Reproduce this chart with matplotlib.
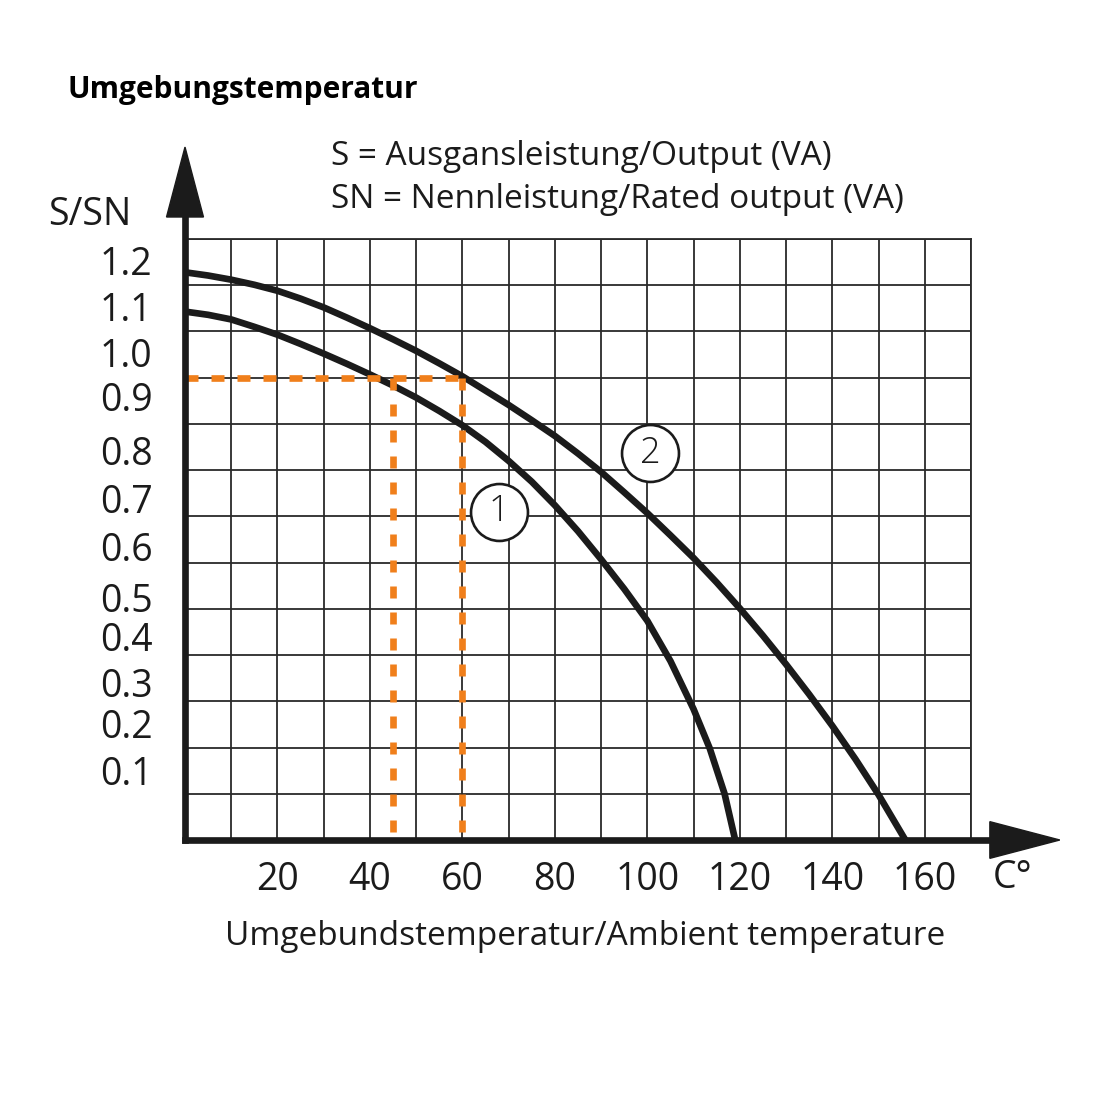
import matplotlib
matplotlib.use("Agg")
import matplotlib.pyplot as plt
import numpy as np
from matplotlib.patches import Polygon

plt.rcParams["font.family"] = ["Open Sans", "DejaVu Sans"]

# derating curves: ambient temperature (C) -> S/SN
temp_1 = [0, 5, 10, 15, 20, 25, 30, 35, 40, 45, 50, 55, 60, 65, 70, 75,
          80, 85, 90, 95, 100, 105, 110, 113.5, 116.7, 119.0]
load_1 = [1.143, 1.136, 1.126, 1.110, 1.093, 1.073, 1.052, 1.030, 1.007,
          0.983, 0.957, 0.928, 0.897, 0.861, 0.820, 0.775, 0.724, 0.668,
          0.607, 0.543, 0.474, 0.387, 0.283, 0.198, 0.100, 0.0]

temp_2 = [0, 5, 10, 15, 20, 25, 30, 35, 40, 45, 50, 55, 60, 65, 70, 75,
          80, 85, 90, 95, 100, 105, 110, 115, 120, 125, 130, 135, 140, 145,
          150, 155.8]
load_2 = [1.228, 1.221, 1.212, 1.201, 1.188, 1.171, 1.152, 1.130, 1.107,
          1.083, 1.058, 1.031, 1.003, 0.972, 0.941, 0.908, 0.874, 0.836,
          0.796, 0.752, 0.707, 0.659, 0.610, 0.557, 0.501, 0.442, 0.380,
          0.315, 0.247, 0.175, 0.098, 0.0]

# rated output (S/SN = 1) and the temperatures marked for it
rated_load = 1.0
rated_temps = [45, 60]

x_tick_values = [20, 40, 60, 80, 100, 120, 140, 160]
y_tick_labels = ["1.2", "1.1", "1.0", "0.9", "0.8", "0.7",
                 "0.6", "0.5", "0.4", "0.3", "0.2", "0.1"]
# the original labels sit between the grid lines, not on them
y_label_pos = [1.223, 1.122, 1.024, 0.927, 0.812, 0.708,
               0.604, 0.494, 0.408, 0.310, 0.220, 0.119]

title = "Umgebungstemperatur"
legend_lines = ["S = Ausgansleistung/Output (VA)",
                "SN = Nennleistung/Rated output (VA)"]
x_title = "Umgebundstemperatur/Ambient temperature"
y_title = "S/SN"
unit = "C°"

INK = "#1b1b1b"
ORANGE = "#f07f1b"

fig = plt.figure(figsize=(11, 11), dpi=100)
ax = fig.add_axes([185 / 1100, 260 / 1100, 786 / 1100, 601 / 1100])
ax.set_xlim(0, 170)
ax.set_ylim(0, 1.3)

xt = np.arange(0, 171, 10)
ax.set_xticks(xt)
ax.set_xticklabels([str(v) if v in x_tick_values else "" for v in xt])
ax.set_yticks(np.round(np.arange(0, 1.31, 0.1), 2))
ax.tick_params(length=0, labelleft=False)
ax.tick_params(axis="x", pad=15, labelsize=27, labelcolor=INK)
ax.grid(True, color="#2a2a2a", lw=1.3)
ax.set_axisbelow(True)

for side in ("top", "right"):
    ax.spines[side].set_linewidth(1.3)
    ax.spines[side].set_color("#2a2a2a")
for side in ("left", "bottom"):
    ax.spines[side].set_visible(False)

# thick axes with big arrow heads
ax.plot([0, 0], [0, 1.04], transform=ax.transAxes, lw=4.8, color=INK,
        clip_on=False, solid_capstyle="projecting", zorder=6)
ax.plot([0, 1.025], [0, 0], transform=ax.transAxes, lw=4.8, color=INK,
        clip_on=False, solid_capstyle="projecting", zorder=6)
ax.add_patch(Polygon([[-0.0235, 1.0366], [0.0235, 1.0366], [0, 1.153]],
                     closed=True, color=INK, transform=ax.transAxes,
                     clip_on=False, zorder=6))
ax.add_patch(Polygon([[1.024, -0.0305], [1.024, 0.0305], [1.113, 0]],
                     closed=True, color=INK, transform=ax.transAxes,
                     clip_on=False, zorder=6))

ax.plot(temp_1, load_1, color=INK, lw=4.8, zorder=3,
        solid_capstyle="butt", solid_joinstyle="round")
ax.plot(temp_2, load_2, color=INK, lw=4.8, zorder=3,
        solid_capstyle="butt", solid_joinstyle="round")

# orange guide lines
ax.plot([0, max(rated_temps)], [rated_load, rated_load], color=ORANGE,
        lw=4.8, dashes=(1.95, 1.95), zorder=4)
for t in rated_temps:
    ax.plot([t, t], [rated_load, 0], color=ORANGE, lw=4.8,
            dashes=(1.8, 2.1), zorder=4)

# circled curve numbers
for num, (cx, cy) in zip(["1", "2"], [(67.9, 0.710), (100.6, 0.837)]):
    ax.plot(cx, cy, marker="o", ms=41, mfc="white", mec=INK, mew=1.9,
            zorder=5)
    ax.text(cx, cy, num, ha="center", va="center", fontsize=26,
            fontweight="light", color=INK, zorder=6)

for lbl, pos in zip(y_tick_labels, y_label_pos):
    ax.text(-0.1081, pos, lbl, transform=ax.get_yaxis_transform(),
            ha="left", va="baseline", fontsize=27, color=INK)

ax.text(179, -0.0799, unit, transform=ax.get_xaxis_transform(),
        ha="center", va="baseline", fontsize=27, color=INK)

fig.text(68 / 1100, 1 - 98 / 1100, title, fontsize=21.5, fontweight="bold",
         va="baseline", color="black")
fig.text(331 / 1100, 1 - 165 / 1100, legend_lines[0], fontsize=24,
         va="baseline", color=INK)
fig.text(331 / 1100, 1 - 208 / 1100, legend_lines[1], fontsize=24,
         va="baseline", color=INK)
fig.text(48 / 1100, 1 - 225 / 1100, y_title, fontsize=27, va="baseline",
         color=INK)
fig.text(585 / 1100, 1 - 945 / 1100, x_title, fontsize=24, ha="center",
         va="baseline", color=INK)

fig.savefig("out.png", dpi=100)
